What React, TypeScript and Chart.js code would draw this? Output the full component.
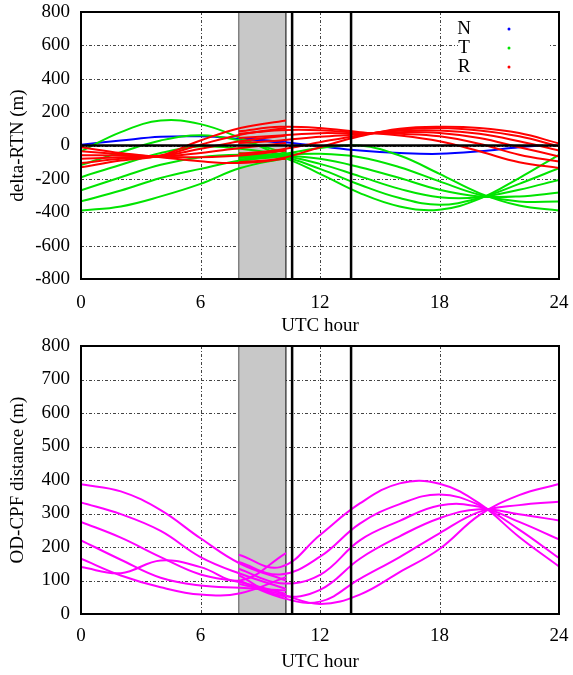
import React, { useEffect, useRef } from "react";
import { Chart, registerables } from "chart.js";

Chart.register(...registerables);

const SERIF = "'Liberation Serif', 'Times New Roman', Times, serif";

// ---- x positions (UTC hour) ----
const hoursA = [0, 2, 4, 6, 8, 10.29];
const hoursB = [7.92, 10, 12, 14, 16, 18, 20, 22, 24];
const hoursNB = [7.92, 10, 12, 14, 16, 18, 20, 22, 23.2];
const xTickValues = [0, 6, 12, 18, 24];

// ---- N component (m) ----
const nA = [5, 30, 52, 55, 40, 15];
const nB = [45, 22, -5, -30, -45, -50, -35, -10, 0];

// ---- T component (m) ----
const tA = [
  [-35, 80, 150, 128, 45, -75],
  [-117, -40, 30, 62, 30, -45],
  [-190, -115, -45, -5, -20, -55],
  [-268, -190, -115, -70, -55, -60],
  [-335, -270, -195, -140, -90, -65],
  [-390, -365, -305, -230, -135, -75],
];
const tB = [
  [-95, -55, -15, 0, -60, -170, -285, -360, -390],
  [-85, -58, -50, -70, -130, -215, -295, -335, -336],
  [-75, -60, -80, -130, -195, -265, -305, -305, -282],
  [-65, -62, -110, -185, -260, -310, -310, -265, -206],
  [-55, -65, -140, -235, -315, -355, -315, -230, -136],
  [-45, -68, -170, -285, -365, -385, -320, -195, -56],
];

// ---- R component (m) ----
const rA = [
  [-10, -45, -70, -95, -105, -80],
  [-35, -52, -68, -70, -60, -30],
  [-58, -60, -66, -45, -15, 15],
  [-80, -70, -64, -20, 25, 60],
  [-105, -80, -62, 5, 65, 105],
  [-130, -90, -60, 30, 105, 150],
];
const rB = [
  [85, 112, 105, 80, 60, 25, -35, -100, -135],
  [70, 92, 92, 76, 70, 55, 10, -55, -96],
  [45, 60, 74, 72, 80, 75, 45, -10, -66],
  [15, 30, 52, 68, 88, 90, 70, 25, -30],
  [-50, -25, 20, 62, 95, 105, 90, 55, -5],
  [-100, -78, -10, 55, 100, 112, 105, 75, 12],
];

// ---- OD-CPF distance (m) ----
const dA = [
  [387, 366, 310, 226, 150, 100],
  [333, 298, 248, 170, 120, 75],
  [275, 228, 170, 118, 95, 60],
  [220, 162, 108, 85, 78, 70],
  [165, 115, 80, 58, 62, 110],
  [140, 122, 160, 140, 100, 182],
];
const dB = [
  [177, 140, 236, 330, 390, 389, 330, 230, 142],
  [155, 118, 171, 270, 328, 357, 325, 252, 167],
  [135, 92, 117, 220, 278, 324, 320, 275, 223],
  [115, 55, 72, 165, 232, 286, 313, 298, 279],
  [100, 50, 37, 105, 170, 241, 305, 325, 335],
  [90, 60, 30, 58, 125, 194, 295, 355, 388],
];

// ---- markers (UTC hour) ----
const bandStart = 7.92;
const bandEnd = 10.29;
const markHours = [10.6, 13.56];

const legendLabels = ["N", "T", "R"];
const COLOR_N = "#0000ff";
const COLOR_T = "#00e400";
const COLOR_R = "#ff0000";
const COLOR_D = "#ff00ff";

function series(hours: number[], rows: number[][], color: string, key: string) {
  return rows.map((row, i) => ({
    label: `${key}${i + 1}`,
    data: row.map((v, j) => ({ x: hours[j], y: v })),
    borderColor: color,
    backgroundColor: color,
    borderWidth: 2,
    pointRadius: 0,
    tension: 0.4,
    fill: false,
  }));
}

function makeOverlay(opts: { zeroLine: boolean; legend: boolean }) {
  return {
    id: "overlay",
    beforeDatasetsDraw(chart: any) {
      const { ctx, chartArea: a, scales } = chart;
      const x = scales.x;
      const y = scales.y;
      ctx.save();
      // grid
      ctx.strokeStyle = "#444";
      ctx.lineWidth = 1;
      ctx.setLineDash([3, 2, 1, 2]);
      for (const t of x.ticks) {
        if (t.value <= x.min || t.value >= x.max) continue;
        const px = Math.round(x.getPixelForValue(t.value)) + 0.5;
        ctx.beginPath();
        ctx.moveTo(px, a.top);
        ctx.lineTo(px, a.bottom);
        ctx.stroke();
      }
      for (const t of y.ticks) {
        if (t.value <= y.min || t.value >= y.max) continue;
        const py = Math.round(y.getPixelForValue(t.value)) + 0.5;
        ctx.beginPath();
        ctx.moveTo(a.left, py);
        ctx.lineTo(a.right, py);
        ctx.stroke();
      }
      ctx.setLineDash([]);
      // shaded band
      const b0 = x.getPixelForValue(bandStart);
      const b1 = x.getPixelForValue(bandEnd);
      ctx.fillStyle = "#c8c8c8";
      ctx.fillRect(b0, a.top, b1 - b0, a.bottom - a.top);
      ctx.strokeStyle = "#808080";
      ctx.lineWidth = 1.5;
      ctx.beginPath();
      ctx.moveTo(b0, a.top);
      ctx.lineTo(b0, a.bottom);
      ctx.stroke();
      ctx.strokeStyle = "#000";
      ctx.lineWidth = 1;
      ctx.beginPath();
      ctx.moveTo(b1, a.top);
      ctx.lineTo(b1, a.bottom);
      ctx.stroke();
      // legend box (opaque)
      if (opts.legend) {
        ctx.fillStyle = "#fff";
        ctx.fillRect(a.right - 101, a.top + 7, 90, 57);
      }
      ctx.restore();
    },
    afterDatasetsDraw(chart: any) {
      const { ctx, chartArea: a, scales } = chart;
      const x = scales.x;
      const y = scales.y;
      ctx.save();
      ctx.strokeStyle = "#000";
      if (opts.zeroLine) {
        const py = y.getPixelForValue(0);
        ctx.lineWidth = 2.5;
        ctx.beginPath();
        ctx.moveTo(a.left, py);
        ctx.lineTo(a.right, py);
        ctx.stroke();
      }
      ctx.lineWidth = 2.5;
      for (const h of markHours) {
        const px = x.getPixelForValue(h);
        ctx.beginPath();
        ctx.moveTo(px, a.top);
        ctx.lineTo(px, a.bottom);
        ctx.stroke();
      }
      ctx.lineWidth = 2;
      ctx.strokeRect(a.left, a.top, a.right - a.left, a.bottom - a.top);
      if (opts.legend) {
        const colors = [COLOR_N, COLOR_T, COLOR_R];
        ctx.font = `19px ${SERIF}`;
        ctx.textAlign = "center";
        ctx.textBaseline = "middle";
        legendLabels.forEach((lab, i) => {
          const cy = a.top + 17 + i * 19;
          ctx.fillStyle = "#000";
          ctx.fillText(lab, a.right - 95, cy);
          ctx.fillStyle = colors[i];
          ctx.beginPath();
          ctx.arc(a.right - 50, cy, 1.5, 0, Math.PI * 2);
          ctx.fill();
        });
      }
      ctx.restore();
    },
  };
}

function scalesFor(p: {
  yMin: number;
  yMax: number;
  yStep: number;
  yTitle: string;
  xHeight: number;
  xTickPad: number;
  xTitlePad: number;
}) {
  const tickFont = { family: SERIF, size: 19 };
  return {
    x: {
      type: "linear",
      min: 0,
      max: 24,
      afterBuildTicks: (s: any) => {
        s.ticks = xTickValues.map((v) => ({ value: v }));
      },
      ticks: { font: tickFont, color: "#000", padding: p.xTickPad, maxRotation: 0, autoSkip: false },
      grid: { display: false, drawTicks: false },
      border: { display: false },
      title: {
        display: true,
        text: "UTC hour",
        color: "#000",
        font: { family: SERIF, size: 19, lineHeight: 1 },
        padding: { top: 0, bottom: p.xTitlePad },
      },
      afterFit: (s: any) => {
        s.height = p.xHeight;
        s.paddingLeft = 0;
        s.paddingRight = 0;
      },
    },
    y: {
      type: "linear",
      min: p.yMin,
      max: p.yMax,
      ticks: { stepSize: p.yStep, font: tickFont, color: "#000", padding: 11 },
      grid: { display: false, drawTicks: false },
      border: { display: false },
      title: {
        display: true,
        text: p.yTitle,
        color: "#000",
        font: { family: SERIF, size: 19, lineHeight: 1 },
        padding: { top: 8.5, bottom: 0 },
      },
      afterFit: (s: any) => {
        s.width = 81;
        s.paddingTop = 0;
        s.paddingBottom = 0;
      },
    },
  };
}

export default function App() {
  const topRef = useRef<HTMLCanvasElement | null>(null);
  const botRef = useRef<HTMLCanvasElement | null>(null);

  useEffect(() => {
    const common = {
      responsive: false,
      devicePixelRatio: 1,
      animation: false,
      events: [],
      plugins: { legend: { display: false }, tooltip: { enabled: false } },
    };
    const top = new Chart(topRef.current as HTMLCanvasElement, {
      type: "line",
      data: {
        datasets: [
          ...series(hoursA, rA, COLOR_R, "R-A"),
          ...series(hoursB, rB, COLOR_R, "R-B"),
          ...series(hoursA, tA, COLOR_T, "T-A"),
          ...series(hoursB, tB, COLOR_T, "T-B"),
          ...series(hoursA, [nA], COLOR_N, "N-A"),
          ...series(hoursNB, [nB], COLOR_N, "N-B"),
        ],
      },
      options: {
        ...common,
        layout: { padding: { top: 12, right: 14, bottom: 0, left: 0 } },
        scales: scalesFor({
          yMin: -800,
          yMax: 800,
          yStep: 200,
          yTitle: "delta-RTN (m)",
          xHeight: 57,
          xTickPad: 13,
          xTitlePad: 0,
        }),
      } as any,
      plugins: [makeOverlay({ zeroLine: true, legend: true })],
    });
    const bot = new Chart(botRef.current as HTMLCanvasElement, {
      type: "line",
      data: {
        datasets: [
          ...series(hoursA, dA, COLOR_D, "D-A"),
          ...series(hoursB, dB, COLOR_D, "D-B"),
        ],
      },
      options: {
        ...common,
        layout: { padding: { top: 10, right: 14, bottom: 0, left: 0 } },
        scales: scalesFor({
          yMin: 0,
          yMax: 800,
          yStep: 100,
          yTitle: "OD-CPF distance (m)",
          xHeight: 61,
          xTickPad: 10.5,
          xTitlePad: 3,
        }),
      } as any,
      plugins: [makeOverlay({ zeroLine: false, legend: false })],
    });
    return () => {
      top.destroy();
      bot.destroy();
    };
  }, []);

  return (
    <div style={{ position: "absolute", left: 0, top: 0, width: 573, height: 675, background: "#fff" }}>
      <canvas ref={topRef} width={573} height={336} style={{ display: "block", width: 573, height: 336 }} />
      <canvas ref={botRef} width={573} height={339} style={{ display: "block", width: 573, height: 339 }} />
    </div>
  );
}
